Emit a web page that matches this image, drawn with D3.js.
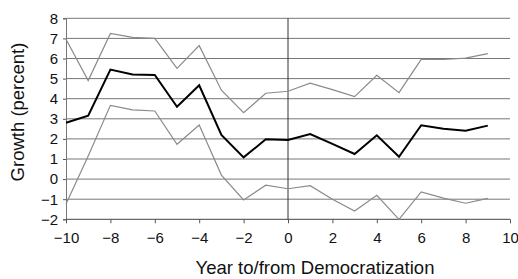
<!DOCTYPE html>
<html>
<head>
<meta charset="utf-8">
<script src="https://cdn.jsdelivr.net/npm/d3@7"></script>
<style>
	body { margin: 0; background: #fff; }
	text { font-family: "Liberation Sans", Arial, sans-serif; fill: #111; }
</style>
</head>
<body>
<script>
// years relative to democratization
var years = [-10, -9, -8, -7, -6, -5, -4, -3, -2, -1, 0, 1, 2, 3, 4, 5, 6, 7, 8, 9];
// mean growth
var growthMean = [2.8, 3.15, 5.45, 5.2, 5.18, 3.6, 4.67, 2.2, 1.08, 1.98, 1.95, 2.24, 1.75, 1.25, 2.18, 1.11, 2.68, 2.51, 2.41, 2.66];
// upper band
var growthUpper = [6.96, 4.9, 7.25, 7.05, 7.0, 5.51, 6.64, 4.42, 3.3, 4.27, 4.37, 4.77, 4.45, 4.1, 5.16, 4.3, 5.96, 5.95, 6.02, 6.24];
// lower band
var growthLower = [-1.24, 1.15, 3.67, 3.44, 3.39, 1.73, 2.69, 0.2, -1.04, -0.3, -0.48, -0.33, -1.0, -1.59, -0.81, -2.0, -0.64, -0.95, -1.2, -0.96];

var xTicks = [-10, -8, -6, -4, -2, 0, 2, 4, 6, 8, 10];
var yTicks = [-2, -1, 0, 1, 2, 3, 4, 5, 6, 7, 8];

var w = 518, h = 279;
var svg = d3.select("body").append("svg")
	.attr("width", w)
	.attr("height", h);

var x = d3.scaleLinear().domain([-10, 10]).range([66, 510]);
var y = d3.scaleLinear().domain([-2, 8]).range([219.3, 18.3]);

// horizontal gridlines
svg.selectAll(".grid")
	.data(yTicks)
	.enter()
	.append("line")
	.attr("class", "grid")
	.attr("x1", x(-10))
	.attr("x2", x(10))
	.attr("y1", function(d){ return y(d); })
	.attr("y2", function(d){ return y(d); })
	.style("stroke", function(d){ return d === -2 ? "#444" : "#777"; })
	.style("stroke-width", 1);

// y axis
var yAxis = d3.axisLeft(y)
	.tickValues(yTicks)
	.tickSize(3)
	.tickPadding(5)
	.tickFormat(function(d){ return d < 0 ? "\u2212" + Math.abs(d) : d; });
var gy = svg.append("g")
	.attr("transform", "translate(" + x(-10) + ",0)")
	.call(yAxis);
gy.select(".domain").style("stroke", "#777");
gy.selectAll(".tick line").style("stroke", "#555");
gy.selectAll("text").style("font-size", "15px").style("fill", "#111")
	.style("font-family", "Liberation Sans, Arial, sans-serif");

// x axis
var xAxis = d3.axisBottom(x)
	.tickValues(xTicks)
	.tickSize(4)
	.tickPadding(9)
	.tickFormat(function(d){ return d < 0 ? "\u2212" + Math.abs(d) : d; });
var gx = svg.append("g")
	.attr("transform", "translate(0," + y(-2) + ")")
	.call(xAxis);
gx.select(".domain").remove();
gx.selectAll(".tick line").style("stroke", "#555");
gx.selectAll("text").style("font-size", "15px").style("fill", "#111")
	.style("font-family", "Liberation Sans, Arial, sans-serif");

// vertical line at democratization
svg.append("line")
	.attr("x1", x(0)).attr("x2", x(0))
	.attr("y1", y(8)).attr("y2", y(-2))
	.style("stroke", "#333")
	.style("stroke-width", 1);

var line = d3.line()
	.x(function(d){ return x(d[0]); })
	.y(function(d){ return y(d[1]); });

function pairs(vals){
	return years.map(function(yr, i){ return [yr, vals[i]]; });
}

svg.append("path")
	.datum(pairs(growthUpper))
	.attr("d", line)
	.style("fill", "none")
	.style("stroke", "#8a8a8a")
	.style("stroke-width", 1.2);

svg.append("path")
	.datum(pairs(growthLower))
	.attr("d", line)
	.style("fill", "none")
	.style("stroke", "#8a8a8a")
	.style("stroke-width", 1.2);

svg.append("path")
	.datum(pairs(growthMean))
	.attr("d", line)
	.style("fill", "none")
	.style("stroke", "#000")
	.style("stroke-width", 2);

// axis titles
svg.append("text")
	.attr("text-anchor", "middle")
	.attr("x", 315)
	.attr("y", 274)
	.style("font-size", "18.5px")
	.text("Year to/from Democratization");

svg.append("text")
	.attr("text-anchor", "middle")
	.attr("transform", "translate(24,112) rotate(-90)")
	.style("font-size", "18.5px")
	.text("Growth (percent)");
</script>
</body>
</html>
